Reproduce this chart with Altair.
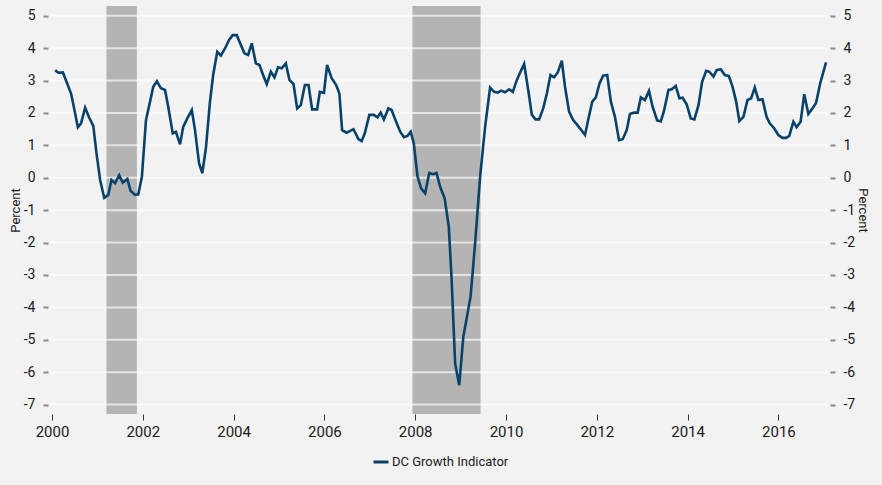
import altair as alt
import pandas as pd

# ---- data ----
years = [
    2000.07, 2000.14, 2000.24, 2000.32, 2000.42, 2000.48, 2000.57, 2000.64, 2000.73, 2000.81, 2000.91, 2000.98,
    2001.06, 2001.15, 2001.24, 2001.31, 2001.39, 2001.48, 2001.56, 2001.66, 2001.73, 2001.83, 2001.90, 2001.98,
    2002.07, 2002.16, 2002.23, 2002.31, 2002.40, 2002.49, 2002.56, 2002.66, 2002.73, 2002.82, 2002.89, 2002.98,
    2003.08, 2003.15, 2003.24, 2003.31, 2003.39, 2003.48, 2003.55, 2003.64, 2003.72, 2003.81, 2003.90, 2003.98,
    2004.07, 2004.16, 2004.24, 2004.32, 2004.40, 2004.49, 2004.57, 2004.65, 2004.73, 2004.82, 2004.90, 2004.98,
    2005.06, 2005.15, 2005.23, 2005.32, 2005.40, 2005.48, 2005.57, 2005.65, 2005.73, 2005.84, 2005.90, 2005.99,
    2006.06, 2006.16, 2006.26, 2006.33, 2006.39, 2006.49, 2006.64, 2006.75, 2006.82, 2006.89, 2006.99,
    2007.09, 2007.17, 2007.24, 2007.31, 2007.41, 2007.48, 2007.58, 2007.67, 2007.75, 2007.83, 2007.90, 2007.97,
    2008.05, 2008.13, 2008.22, 2008.31, 2008.39, 2008.47, 2008.55, 2008.65, 2008.74, 2008.80, 2008.88, 2008.97,
    2009.06, 2009.22, 2009.32, 2009.43, 2009.54, 2009.65, 2009.74, 2009.82, 2009.89, 2009.98,
    2010.07, 2010.15, 2010.24, 2010.32, 2010.40, 2010.49, 2010.57, 2010.65, 2010.73, 2010.82, 2010.90, 2010.98,
    2011.06, 2011.14, 2011.23, 2011.30, 2011.39, 2011.48, 2011.57, 2011.67, 2011.74, 2011.81, 2011.90, 2011.98,
    2012.06, 2012.14, 2012.23, 2012.31, 2012.40, 2012.49, 2012.57, 2012.66, 2012.73, 2012.82, 2012.90, 2012.97,
    2013.06, 2013.15, 2013.23, 2013.33, 2013.41, 2013.48, 2013.58, 2013.65, 2013.74, 2013.82, 2013.89, 2013.98,
    2014.07, 2014.15, 2014.24, 2014.32, 2014.41, 2014.48, 2014.57, 2014.64, 2014.73, 2014.82, 2014.91, 2014.99,
    2015.07, 2015.14, 2015.23, 2015.32, 2015.40, 2015.48, 2015.56, 2015.65, 2015.74, 2015.81, 2015.91, 2016.00,
    2016.09, 2016.17, 2016.24, 2016.33, 2016.40, 2016.49, 2016.57, 2016.66, 2016.75, 2016.83, 2016.92, 2017.05,
]
values = [
    3.32, 3.24, 3.25, 2.96, 2.60, 2.19, 1.56, 1.68, 2.16, 1.88, 1.60, 0.75,
    -0.07, -0.62, -0.53, -0.07, -0.17, 0.08, -0.15, -0.04, -0.40, -0.53, -0.51, 0.03,
    1.78, 2.35, 2.81, 2.98, 2.76, 2.71, 2.19, 1.37, 1.42, 1.03, 1.57, 1.83,
    2.09, 1.47, 0.44, 0.14, 0.91, 2.35, 3.17, 3.89, 3.77, 3.99, 4.25, 4.40,
    4.40, 4.10, 3.84, 3.79, 4.15, 3.53, 3.48, 3.17, 2.89, 3.27, 3.10, 3.41,
    3.38, 3.53, 3.02, 2.89, 2.14, 2.24, 2.86, 2.86, 2.11, 2.11, 2.65, 2.62,
    3.48, 3.07, 2.86, 2.60, 1.47, 1.39, 1.50, 1.19, 1.13, 1.37, 1.94,
    1.94, 1.86, 2.01, 1.80, 2.14, 2.09, 1.73, 1.42, 1.25, 1.29, 1.42, 1.06,
    0.05, -0.33, -0.48, 0.15, 0.11, 0.15, -0.28, -0.64, -1.51, -3.06, -5.73, -6.40,
    -4.91, -3.67, -2.02, 0.03, 1.57, 2.78, 2.65, 2.63, 2.69, 2.64,
    2.73, 2.65, 3.02, 3.27, 3.51, 2.71, 1.94, 1.80, 1.80, 2.14, 2.60, 3.17,
    3.10, 3.25, 3.61, 2.81, 2.04, 1.78, 1.63, 1.45, 1.32, 1.78, 2.35, 2.48,
    2.91, 3.15, 3.17, 2.35, 1.88, 1.16, 1.19, 1.47, 1.97, 2.01, 2.01, 2.48,
    2.40, 2.68, 2.19, 1.77, 1.74, 2.06, 2.71, 2.73, 2.83, 2.45, 2.47, 2.27,
    1.83, 1.80, 2.24, 2.96, 3.30, 3.27, 3.12, 3.32, 3.35, 3.17, 3.14, 2.81,
    2.35, 1.75, 1.88, 2.40, 2.45, 2.78, 2.40, 2.42, 1.88, 1.68, 1.52, 1.32,
    1.23, 1.23, 1.29, 1.73, 1.56, 1.73, 2.58, 1.97, 2.14, 2.31, 2.91, 3.56,
]
series_name = "DC Growth Indicator"
recession_start = [2001.20, 2007.94]
recession_end = [2001.87, 2009.44]
y_ticks = [-7, -6, -5, -4, -3, -2, -1, 0, 1, 2, 3, 4, 5]
x_ticks = [2000, 2002, 2004, 2006, 2008, 2010, 2012, 2014, 2016]
x_domain = [1999.956, 2017.093]
y_domain = [-7.29, 5.30]

FONT = "Roboto"
LINE_COLOR = "#08426a"

df = pd.DataFrame({"year": years, "value": values, "series": series_name})
rec = pd.DataFrame({"start": recession_start, "end": recession_end})
grid = pd.DataFrame({"v": y_ticks})

xscale = alt.Scale(domain=x_domain, nice=False, zero=False)
yscale = alt.Scale(domain=y_domain, nice=False, zero=False)

x_axis = alt.Axis(values=x_ticks, format="d", grid=False, domain=False, tickColor="#333333",
                  tickSize=6, tickWidth=1, labelFontSize=15, labelColor="#1a1a1a", labelFont=FONT,
                  labelPadding=4, title=None)

def y_axis(orient):
    return alt.Axis(orient=orient, values=y_ticks, labelExpr="'' + datum.value", grid=False, domain=False,
                    tickColor="#8a8a8a", tickSize=5, tickWidth=2, offset=2,
                    labelFontSize=14, labelColor="#1a1a1a", labelFont=FONT, labelPadding=8,
                    title="Percent", titleFont=FONT, titleFontSize=13, titleFontWeight="normal",
                    titleColor="#1a1a1a", titlePadding=1)

bars = alt.Chart(rec).mark_rect(color="#b4b4b4").encode(
    x=alt.X("start:Q", scale=xscale, axis=x_axis),
    x2="end:Q",
    y=alt.YDatum(y_domain[1], scale=yscale, axis=None),
    y2=alt.Y2Datum(y_domain[0]),
)

grid_left = alt.Chart(grid).mark_rule(color="white", strokeWidth=2, opacity=0.65).encode(
    y=alt.Y("v:Q", scale=yscale, axis=y_axis("left")),
)

grid_right = alt.Chart(grid).mark_rule(strokeOpacity=0).encode(
    y=alt.Y("v:Q", scale=yscale, axis=y_axis("right")),
)

line = alt.Chart(df).mark_line(strokeWidth=2.6).encode(
    x=alt.X("year:Q", scale=xscale, axis=x_axis),
    y=alt.Y("value:Q", scale=yscale, axis=None),
    color=alt.Color("series:N", scale=alt.Scale(range=[LINE_COLOR]),
                    legend=alt.Legend(title=None, orient="none", legendX=322, legendY=447,
                                      symbolType="stroke", symbolStrokeWidth=3, symbolSize=225,
                                      labelFont=FONT, labelFontSize=13, labelColor="#1a1a1a",
                                      labelOffset=2)),
)

chart = alt.layer(bars, grid_left, line, grid_right).resolve_scale(
    y="independent"
).properties(
    width=778, height=408,
    background="#f2f2f2",
    padding={"left": 50, "top": 6, "right": 54, "bottom": 71},
    autosize=alt.AutoSizeParams(type="none"),
).configure_view(stroke=None)

chart.save("out.html", embed_options={"renderer": "svg", "actions": False})
